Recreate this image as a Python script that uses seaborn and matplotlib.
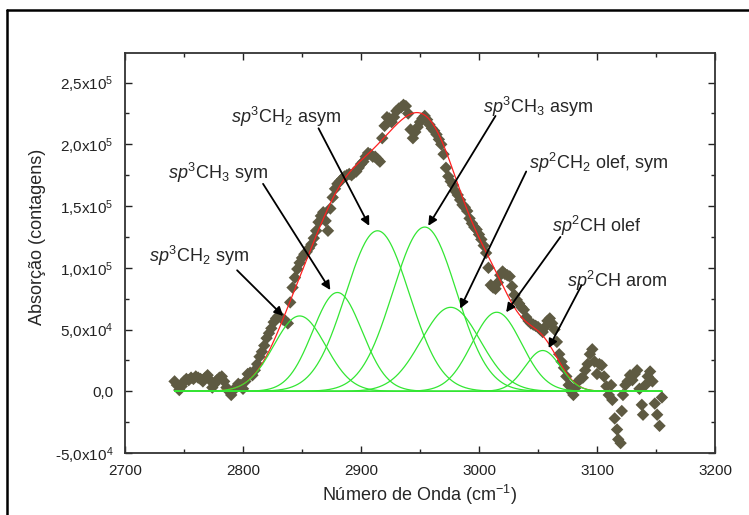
import numpy as np
import pandas as pd
import matplotlib
matplotlib.use("Agg")
import matplotlib.pyplot as plt
from matplotlib.lines import Line2D
from matplotlib.ticker import MultipleLocator, FixedLocator
import seaborn as sns

# measured spectrum (wavenumber in cm-1, counts in units of 1e3)
wavenumber = [
    2742, 2744, 2746, 2748, 2750, 2752, 2754, 2756, 2758, 2760, 2762, 2764, 2766, 2768,
    2770, 2772, 2774, 2776, 2778, 2780, 2782, 2784, 2786, 2788, 2790, 2792, 2794, 2796,
    2798, 2800, 2802, 2804, 2806, 2808, 2810, 2812, 2814, 2816, 2818, 2820, 2822, 2824,
    2826, 2828, 2830, 2832, 2834, 2836, 2838, 2840, 2842, 2844, 2846, 2848, 2850, 2852,
    2854, 2856, 2858, 2860, 2862, 2864, 2866, 2868, 2870, 2872, 2874, 2876, 2878, 2880,
    2882, 2884, 2886, 2888, 2890, 2892, 2894, 2896, 2898, 2900, 2902, 2904, 2906, 2908,
    2910, 2912, 2914, 2916, 2918, 2920, 2922, 2924, 2926, 2928, 2930, 2932, 2934, 2936,
    2938, 2940, 2942, 2944, 2946, 2948, 2950, 2952, 2954, 2956, 2958, 2960, 2962, 2964,
    2966, 2968, 2970, 2972, 2974, 2976, 2978, 2980, 2982, 2984, 2986, 2988, 2990, 2992,
    2994, 2996, 2998, 3000, 3002, 3004, 3006, 3008, 3010, 3012, 3014, 3016, 3018, 3020,
    3022, 3024, 3026, 3028, 3030, 3032, 3034, 3036, 3038, 3040, 3042, 3044, 3046, 3048,
    3050, 3052, 3054, 3056, 3058, 3060, 3062, 3064, 3066, 3068, 3070, 3072, 3074, 3076,
    3078, 3080, 3082, 3084, 3086, 3088, 3090, 3092, 3094, 3096, 3098, 3100, 3102, 3104,
    3106, 3108, 3110, 3112, 3113, 3115, 3117, 3118, 3120, 3121, 3122, 3124, 3126, 3128,
    3130, 3132, 3134, 3136, 3138, 3139, 3141, 3143, 3145, 3147, 3149, 3151, 3153, 3155,
]
counts_k = [
    8, 5, 1, 4, 8, 10, 9, 11, 10, 12, 11, 10, 8, 11,
    13, 9, 3, 6, 9, 11, 12, 8, 3, 0, -3, 1, 3, 6,
    5, 2, 8, 14, 15, 13, 17, 22, 28, 32, 37, 43, 47, 51,
    56, 59, 61, 60, 58, 57, 55, 72, 84, 92, 99, 104, 108, 111,
    113, 116, 119, 124, 130, 137, 142, 145, 138, 130, 148, 157, 164, 168,
    170, 172, 174, 175, 176, 175, 177, 178, 181, 184, 186, 190, 193, 192,
    190, 190, 188, 186, 205, 215, 222, 221, 218, 222, 227, 229, 230, 232,
    231, 225, 212, 205, 210, 214, 218, 221, 223, 220, 216, 213, 211, 208,
    204, 200, 192, 181, 174, 170, 167, 162, 159, 155, 151, 149, 146, 140,
    136, 133, 131, 127, 123, 118, 112, 100, 86, 84, 83, 88, 94, 97,
    95, 94, 93, 85, 78, 74, 71, 68, 66, 60, 57, 55, 54, 53,
    52, 50, 48, 52, 57, 59, 55, 50, 40, 30, 24, 19, 12, 5,
    0, -3, 3, 8, 10, 11, 17, 22, 30, 34, 24, 14, 22, 21,
    12, 4, -3, 5, -7, -22, -31, -39, -42, -16, -3, 5, 8, 13,
    9, 14, 17, 2, -11, -19, 5, 12, 16, 8, -10, -19, -28, -5,
]

# fitted gaussian components
peak_names = [
    r"$\mathit{sp^3}$CH$_2$ sym",
    r"$\mathit{sp^3}$CH$_3$ sym",
    r"$\mathit{sp^3}$CH$_2$ asym",
    r"$\mathit{sp^3}$CH$_3$ asym",
    r"$\mathit{sp^2}$CH$_2$ olef, sym",
    r"$\mathit{sp^2}$CH olef",
    r"$\mathit{sp^2}$CH arom",
]
peak_center = [2848, 2880, 2914, 2954, 2976, 3015, 3054]
peak_height_k = [61, 80, 130, 133, 68, 64, 33]
peak_sigma = [22, 21, 27, 27, 25, 21, 15]

ytick_values = [-5e4, 0, 5e4, 1e5, 1.5e5, 2e5, 2.5e5]
ytick_labels = [r"-5,0x10$^4$", "0,0", r"5,0x10$^4$", r"1,0x10$^5$",
                r"1,5x10$^5$", r"2,0x10$^5$", r"2,5x10$^5$"]

# label placement: text centre, arrow tail, arrow head (data coords)
label_pos = [(2763, 110e3), (2779, 177e3), (2836, 222e3), (3050, 230e3),
             (3101, 185e3), (3100, 134e3), (3117, 89e3)]
arrow_tail = [(2795, 98e3), (2817, 168e3), (2864, 213e3), (3014, 223e3),
              (3040, 178e3), (3069, 125e3), (3087, 86e3)]
arrow_head = [(2834, 61e3), (2874, 82e3), (2907, 134e3), (2957, 134e3),
              (2984, 67e3), (3023, 64e3), (3059, 35e3)]

sns.set_style("ticks")
plt.rcParams["font.family"] = ["Liberation Sans", "DejaVu Sans"]
plt.rcParams["mathtext.fontset"] = "custom"
plt.rcParams["mathtext.rm"] = "Liberation Sans"
plt.rcParams["mathtext.it"] = "Liberation Sans:italic"
plt.rcParams["mathtext.bf"] = "Liberation Sans:bold"

df = pd.DataFrame({"x": wavenumber, "y": np.array(counts_k) * 1e3})

xs = np.linspace(min(wavenumber), max(wavenumber), 800)
comps = []
for c, h, s in zip(peak_center, peak_height_k, peak_sigma):
    comps.append(h * 1e3 * np.exp(-(xs - c) ** 2 / (2 * s ** 2)))
fit = np.sum(comps, axis=0)

fig = plt.figure(figsize=(7.49, 5.15), dpi=100)
ax = fig.add_axes([0.1669, 0.1204, 0.7877, 0.7767])

sns.scatterplot(data=df, x="x", y="y", ax=ax, marker="D", s=40,
                color="#5e5a42", edgecolor="none", zorder=2, legend=False)
sns.lineplot(x=xs, y=fit, ax=ax, color="#ff2020", lw=0.9, zorder=3,
             sort=False, estimator=None)
for comp in comps:
    sns.lineplot(x=xs, y=comp, ax=ax, color="#33e633", lw=0.9, zorder=4,
                 sort=False, estimator=None)

for name, tp, tl, hd in zip(peak_names, label_pos, arrow_tail, arrow_head):
    ax.text(tp[0], tp[1], name, ha="center", va="center", fontsize=13, zorder=6)
    ax.annotate("", xy=hd, xytext=tl,
                arrowprops=dict(arrowstyle="-|>", color="black", lw=1.3,
                                mutation_scale=13, shrinkA=0, shrinkB=0),
                zorder=6)

ax.set_xlim(2700, 3200)
ax.set_ylim(-5e4, 2.74e5)
ax.xaxis.set_major_locator(MultipleLocator(100))
ax.xaxis.set_minor_locator(MultipleLocator(50))
ax.yaxis.set_major_locator(FixedLocator(ytick_values))
ax.yaxis.set_minor_locator(MultipleLocator(2.5e4))
ax.set_yticklabels(ytick_labels)
ax.tick_params(which="both", direction="in", top=True, right=True,
               labelsize=11, colors="#222222")
ax.tick_params(axis="x", pad=8)
ax.tick_params(axis="y", pad=8)
ax.tick_params(which="major", length=5, width=1)
ax.tick_params(which="minor", length=3, width=1)
for sp in ax.spines.values():
    sp.set_linewidth(1.3)
    sp.set_color("#333333")

ax.set_xlabel(r"Número de Onda (cm$^{-1}$)", fontsize=13)
ax.set_ylabel("Absorção (contagens)", fontsize=13)
ax.xaxis.set_label_coords(0.5, -0.075)
ax.yaxis.set_label_coords(-0.134, 0.54)

# outer frame (left and top edges)
fig.add_artist(Line2D([7 / 749, 7 / 749], [0, 1 - 10 / 515], color="black", lw=1.8))
fig.add_artist(Line2D([7 / 749, 1], [1 - 10 / 515, 1 - 10 / 515], color="black", lw=1.8))

fig.savefig("out.png", dpi=100)
